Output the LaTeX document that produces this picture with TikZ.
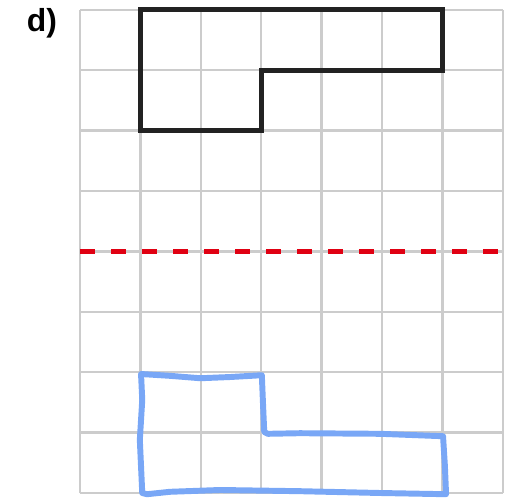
\documentclass[tikz,border=0pt]{standalone}
\usepackage{fontspec}
\setmainfont{Liberation Sans}
\usepackage{tikz}
\definecolor{gridgray}{HTML}{CCCCCC}
\definecolor{shapeblack}{HTML}{222222}
\definecolor{axisred}{HTML}{E00012}
\definecolor{penblue}{HTML}{79A7F6}

\begin{document}
\begin{tikzpicture}
	\useasboundingbox (-1.325,-0.132) rectangle (7.218,8.162);
	\draw[gridgray, line width=1.1pt] (0,0) grid (7,8);
	\draw[axisred, line width=2.2pt, dash pattern=on 7pt off 7.6pt] (0,4) -- (7.03,4);
	\draw[shapeblack, line width=2.2pt] (1,8) -- (6,8) -- (6,7) -- (3,7) -- (3,6) -- (1,6) -- cycle;
	\draw[penblue, line width=2.8pt, line join=round, line cap=round]
		(1.01,1.97) -- (1.49,1.94) -- (1.99,1.90) -- (2.48,1.92) -- (3.01,1.95)
		-- (3.03,1.46) -- (3.05,1.01) -- (3.11,0.98) -- (3.64,0.99) -- (4.97,0.98)
		-- (6.01,0.94) -- (6.04,0.46) -- (6.06,-0.02) -- (4.97,0.00) -- (3.64,0.03)
		-- (2.32,0.05) -- (1.49,0.02) -- (1.11,-0.02) -- (1.03,0.0)
		-- (0.99,0.88) -- (1.03,1.54) -- cycle;
	\node (label) at (-0.63,7.78) {\fontsize{15}{17}\selectfont\bfseries d)};
\end{tikzpicture}
\end{document}
